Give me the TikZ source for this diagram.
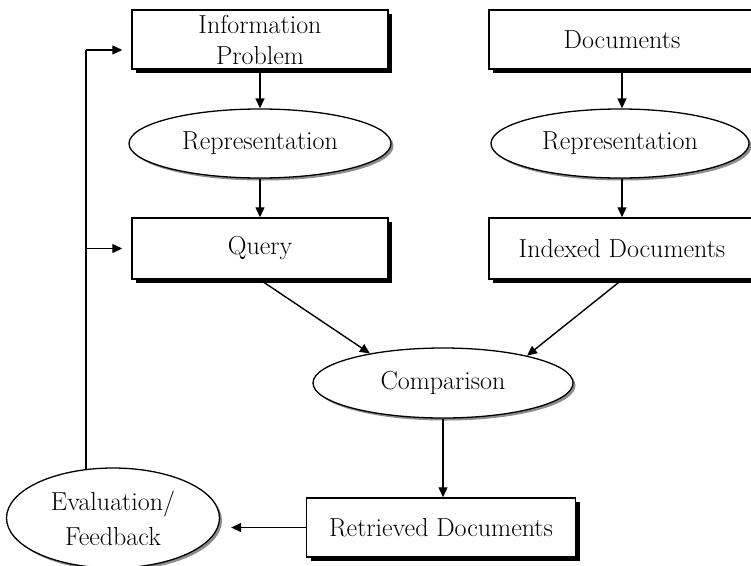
\documentclass[tikz,border=0pt]{standalone}
\usetikzlibrary{shapes.geometric,arrows.meta,shadows}
\begin{document}
\begin{tikzpicture}[x=1pt,y=-1pt,
  txt/.style={font=\fontsize{26}{31}\selectfont, align=center, inner sep=0pt},
  box/.style={txt, draw, line width=1.5pt, fill=white, rectangle,
    drop shadow={shadow xshift=4pt, shadow yshift=-4pt, fill=black, opacity=1}},
  oval/.style={txt, draw, line width=1.3pt, fill=white, ellipse,
    drop shadow={shadow xshift=2.5pt, shadow yshift=-2.5pt, fill=black!45, opacity=1}},
  arr/.style={line width=1.4pt, -{Triangle[length=10pt,width=9pt]}},
  ln/.style={line width=1.4pt}]
\useasboundingbox (0,0) rectangle (751,565);
\node[box, minimum width=256pt, minimum height=59pt] (ip) at (260,39.5) {Information\\Problem};
\node[box, minimum width=266pt, minimum height=59pt] (dc) at (622,39.5) {Documents};
\node[oval, minimum width=262pt, minimum height=69pt] (r1) at (260,143.5) {Representation};
\node[oval, minimum width=258pt, minimum height=69pt] (r2) at (620,143.5) {Representation};
\node[box, minimum width=256pt, minimum height=61pt] (q) at (260,248.5) {Query};
\node[box, minimum width=266pt, minimum height=61pt] (ix) at (622,248.5) {Indexed Documents};
\node[oval, minimum width=260pt, minimum height=70pt] (cp) at (443,383) {Comparison};
\node[box, minimum width=269pt, minimum height=59pt] (rt) at (441,527.5) {Retrieved Documents};
\node[oval, minimum width=213pt, minimum height=100pt, font=\fontsize{26}{35}\selectfont] (ev) at (113,518) {Evaluation/\\Feedback};
\draw[arr] (ip.south) -- (r1.north);
\draw[arr] (r1.south) -- (q.north);
\draw[arr] (dc.south) -- (dc.south |- r2.north);
\draw[arr] (dc.south |- r2.south) -- (ix.north);
\draw[arr] (q.south) -- (cp.158);
\draw[arr] (ix.south) -- (cp.18);
\draw[arr] (cp.south) -- (cp.south |- rt.north);
\draw[arr, shorten >=11pt] (rt.west) -- (rt.west -| ev.east);
\coordinate (fbt) at (ev.119 |- 0,50);
\draw[ln] (ev.119) -- (fbt);
\draw[arr, shorten >=9pt] (fbt) -- (ip.west |- fbt);
\draw[arr, shorten >=9pt] (ev.119 |- q.west) -- (q.west);
\end{tikzpicture}
\end{document}
